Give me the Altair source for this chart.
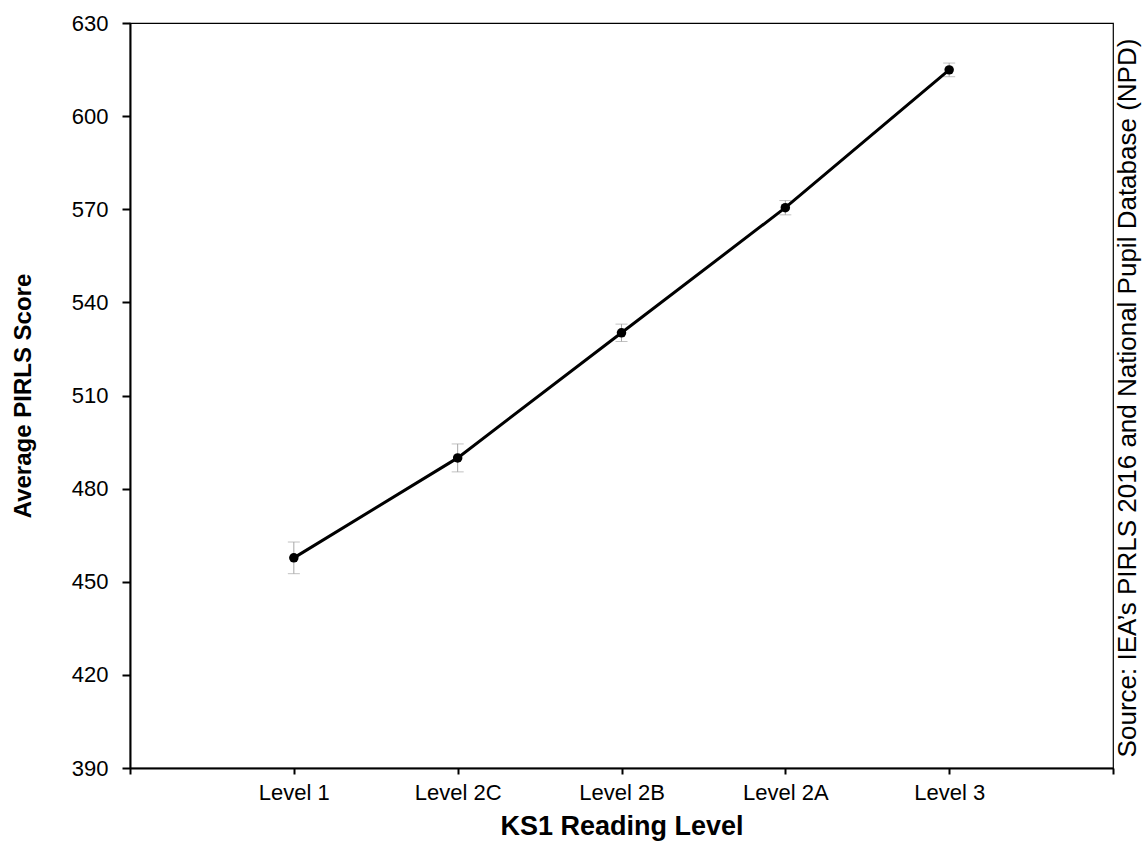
import altair as alt
import pandas as pd

# KS1 reading level vs. average PIRLS score, with standard-error whiskers
levels = ["Level 1", "Level 2C", "Level 2B", "Level 2A", "Level 3"]
positions = [1, 2, 3, 4, 5]
scores = [457.7, 489.9, 530.2, 570.5, 614.9]
errors = [5.1, 4.5, 2.8, 2.3, 2.2]

df = pd.DataFrame({
    "pos": positions,
    "level": levels,
    "score": scores,
    "lo": [s - e for s, e in zip(scores, errors)],
    "hi": [s + e for s, e in zip(scores, errors)],
})

FONT = "Liberation Sans"

label_expr = (
    "datum.value == 1 ? 'Level 1' : datum.value == 2 ? 'Level 2C' : "
    "datum.value == 3 ? 'Level 2B' : datum.value == 4 ? 'Level 2A' : "
    "datum.value == 5 ? 'Level 3' : ''"
)

x = alt.X(
    "pos:Q",
    scale=alt.Scale(domain=[0, 6], nice=False, zero=False),
    axis=alt.Axis(
        title="KS1 Reading Level",
        values=[0, 1, 2, 3, 4, 5, 6],
        labelExpr=label_expr,
        grid=False,
        tickSize=6,
        labelPadding=8,
        titlePadding=10,
        titleFontSize=27,
    ),
)
y = alt.Y(
    "score:Q",
    scale=alt.Scale(domain=[390, 630], nice=False, zero=False),
    axis=alt.Axis(
        title="Average PIRLS Score",
        values=[390, 420, 450, 480, 510, 540, 570, 600, 630],
        grid=False,
        tickSize=8,
        labelPadding=14,
        titlePadding=36,
        titleFontSize=24,
    ),
)

base = alt.Chart(df)

whisker = base.mark_rule(color="#a6a6a6", strokeWidth=1).encode(
    x=x, y=alt.Y("lo:Q"), y2="hi:Q"
)
cap_lo = base.mark_tick(color="#a6a6a6", orient="horizontal", size=12, thickness=1).encode(
    x="pos:Q", y="lo:Q"
)
cap_hi = base.mark_tick(color="#a6a6a6", orient="horizontal", size=12, thickness=1).encode(
    x="pos:Q", y="hi:Q"
)
line = base.mark_line(color="black", strokeWidth=3).encode(x=x, y=y)
points = base.mark_point(filled=True, color="black", size=90, opacity=1).encode(
    x="pos:Q", y="score:Q"
)

source = alt.Chart(pd.DataFrame({"t": ["Source: IEA\u2019s PIRLS 2016 and National Pupil Database (NPD)"]})).mark_text(
    angle=270, font=FONT, fontSize=26, color="black", align="center", baseline="middle"
).encode(
    text="t:N", x=alt.value(998), y=alt.value(375)
)

chart = (
    alt.layer(whisker, cap_lo, cap_hi, line, points, source)
    .properties(
        width=983,
        height=745,
        autosize=alt.AutoSizeParams(type="none"),
        padding={"left": 130, "top": 23, "right": 32, "bottom": 93},
        background="white",
    )
    .configure_view(stroke="black", strokeWidth=1.2)
    .configure_axis(
        domainColor="black",
        domainWidth=2,
        tickColor="black",
        tickWidth=2,
        labelFont=FONT,
        labelFontSize=22,
        labelColor="black",
        titleFont=FONT,
        titleFontWeight="bold",
        titleColor="black",
    )
)

chart.save("out.html", embed_options={"renderer": "svg", "actions": False})
